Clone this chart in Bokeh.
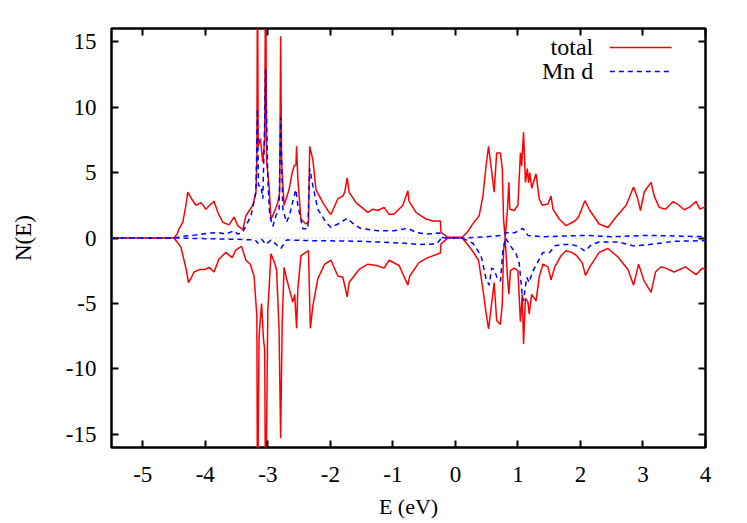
from bokeh.plotting import figure
from bokeh.models import LinearAxis, Range1d, FixedTicker, Span, Label, CustomJSTickFormatter
from bokeh.embed import file_html
from bokeh.resources import INLINE

# ---------------- data ----------------
e_tot_up = [-5.5, -4.5, -4.45, -4.42, -4.36, -4.31, -4.28, -4.22, -4.15, -4.07, -4.02, -3.99,
            -3.93, -3.86, -3.80, -3.72, -3.62, -3.54, -3.48, -3.40, -3.35, -3.24, -3.19,
            -3.175, -3.165, -3.155, -3.12, -3.08, -3.05, -3.035, -3.02, -2.98, -2.95, -2.92,
            -2.84, -2.81, -2.795, -2.78, -2.74, -2.66, -2.61, -2.58, -2.55, -2.54, -2.52,
            -2.47, -2.39, -2.35, -2.33, -2.28, -2.23, -2.12, -2.02, -1.99, -1.88, -1.80,
            -1.77, -1.73, -1.70, -1.59, -1.40, -1.32, -1.24, -1.14, -1.06, -0.98, -0.84,
            -0.76, -0.74, -0.63, -0.47, -0.36, -0.24, -0.23, -0.12, 0.11, 0.20, 0.28, 0.38,
            0.44, 0.49, 0.53, 0.57, 0.62, 0.66, 0.72, 0.75, 0.77, 0.795, 0.83, 0.855, 0.87,
            0.94, 1.00, 1.04, 1.06, 1.09, 1.12, 1.15, 1.17, 1.19, 1.22, 1.29, 1.34, 1.39,
            1.48, 1.53, 1.56, 1.66, 1.77, 1.91, 1.97, 2.01, 2.07, 2.15, 2.30, 2.44, 2.57,
            2.73, 2.85, 2.91, 2.96, 3.02, 3.06, 3.13, 3.18, 3.26, 3.36, 3.48, 3.55, 3.66,
            3.76, 3.85, 3.91, 4.00]
n_tot_up = [0, 0, 0.3, 0.69, 1.2, 2.5, 3.5, 3.0, 2.5, 2.7, 2.4, 2.2,
            2.5, 2.8, 1.96, 1.2, 1.0, 1.6, 0.94, 0.63, 1.7, 2.5, 3.5,
            6.0, 22, 7.0, 7.6, 5.8, 7.5, 22, 5.9, 4.0, 1.45, 1.7,
            2.7, 3.5, 15.4, 5.8, 2.5, 3.7, 5.0, 5.5, 5.6, 7.0, 4.5,
            1.45, 1.07, 1.2, 7.0, 6.0, 3.7, 2.7, 1.96, 1.8, 3.0, 3.2,
            3.5, 4.6, 3.5, 2.7, 1.96, 2.2, 2.1, 2.34, 1.8, 1.83, 2.5,
            3.6, 2.8, 1.96, 1.45, 1.3, 1.3, 0.43, 0.05, 0.05, 0.5, 1.1, 1.7,
            3.2, 5.5, 7.0, 5.5, 3.5, 6.5, 6.5, 5.3, 1.45, 0.0, 2.0, 4.25, 2.2,
            2.1, 2.5, 6.5, 5.5, 8.07, 4.25, 5.3, 4.2, 5.0, 3.8, 4.9, 3.0, 2.5,
            2.6, 3.2, 2.2, 1.45, 0.94, 1.3, 1.6, 2.1, 2.85, 2.1, 1.07, 0.8, 1.6,
            2.5, 3.9, 3.1, 2.1, 3.5, 3.8, 4.25, 3.2, 2.34, 2.2, 2.77, 2.6, 2.16,
            2.4, 2.8, 2.2, 2.4]

e_tot_dn = [-5.5, -4.5, -4.45, -4.39, -4.35, -4.30, -4.27, -4.22, -4.18, -4.08, -4.00, -3.94,
            -3.86, -3.78, -3.67, -3.57, -3.51, -3.42, -3.35, -3.28, -3.22, -3.175, -3.165,
            -3.14, -3.10, -3.07, -3.05, -3.035, -3.00, -2.98, -2.95, -2.90, -2.86, -2.82,
            -2.795, -2.77, -2.74, -2.70, -2.60, -2.57, -2.54, -2.52, -2.47, -2.35, -2.32,
            -2.28, -2.20, -2.09, -1.99, -1.88, -1.80, -1.73, -1.70, -1.54, -1.40, -1.26,
            -1.14, -1.06, -0.90, -0.76, -0.73, -0.58, -0.44, -0.24, -0.23, -0.12, 0.11,
            0.26, 0.37, 0.44, 0.49, 0.53, 0.57, 0.62, 0.66, 0.72, 0.75, 0.77, 0.795, 0.83,
            0.855, 0.88, 0.94, 1.00, 1.04, 1.07, 1.09, 1.12, 1.16, 1.18, 1.22, 1.29, 1.34,
            1.40, 1.48, 1.53, 1.59, 1.69, 1.77, 1.86, 1.94, 2.03, 2.08, 2.15, 2.30, 2.44,
            2.60, 2.76, 2.85, 2.93, 3.02, 3.13, 3.20, 3.29, 3.36, 3.50, 3.68, 3.76, 3.85,
            3.95, 4.00]
n_tot_dn = [0, 0, -0.3, -0.7, -1.5, -2.5, -3.4, -3.0, -2.6, -2.4, -2.4, -2.24,
            -2.6, -1.6, -1.1, -1.5, -0.9, -0.64, -1.7, -2.0, -2.9, -6.0, -22,
            -7.5, -5.0, -7.7, -8.5, -22, -5.5, -3.9, -1.2, -1.8, -2.4, -7.0,
            -15.3, -6.5, -2.24, -3.1, -4.9, -4.3, -6.9, -3.9, -1.35, -0.97, -6.9,
            -5.2, -3.1, -2.0, -1.7, -2.9, -3.0, -4.5, -3.4, -2.4, -2.0, -2.1,
            -2.3, -1.7, -2.1, -3.6, -2.9, -1.86, -1.5, -1.15, -0.45, 0, 0,
            -0.9, -1.7, -3.9, -5.7, -6.95, -5.4, -3.4, -6.3, -6.6, -5.0, -1.0, 0, -2.8,
            -4.3, -2.5, -2.3, -2.5, -6.4, -4.3, -8.1, -4.6, -4.9, -5.8, -4.3, -4.8, -3.0,
            -2.0, -2.2, -3.2, -2.2, -1.35, -0.97, -1.1, -1.35, -1.9, -2.85, -2.2, -1.1, -0.8,
            -1.45, -2.4, -3.6, -2.0, -3.3, -4.15, -2.6, -2.2, -2.3, -2.6, -2.2, -2.5, -2.8,
            -2.3, -2.4]

e_mn_up = [-5.5, -4.5, -4.4, -4.2, -3.94, -3.78, -3.67, -3.54, -3.48, -3.40, -3.35, -3.27,
           -3.19, -3.165, -3.15, -3.11, -3.08, -3.05, -3.035, -3.00, -2.97, -2.92, -2.87,
           -2.82, -2.795, -2.76, -2.70, -2.65, -2.59, -2.55, -2.52, -2.44, -2.36, -2.33,
           -2.28, -2.20, -2.07, -1.99, -1.88, -1.73, -1.66, -1.52, -1.24, -0.98, -0.76,
           -0.63, -0.47, -0.25, -0.23, -0.12, 0.11, 0.30, 0.50, 0.74, 0.80, 0.95, 1.08,
           1.16, 1.40, 2.08, 2.50, 3.10, 4.00]
n_mn_up = [0, 0, 0.1, 0.2, 0.38, 0.4, 0.3, 0.56, 0.3, 0.45, 0.94, 1.7,
           3.5, 9.85, 4.0, 4.0, 3.0, 8.9, 12.9, 4.5, 1.7, 0.9, 1.7,
           2.2, 9.2, 2.2, 1.2, 1.8, 3.0, 3.7, 2.5, 0.7, 0.7, 5.3,
           4.0, 2.2, 1.2, 0.8, 1.07, 1.5, 1.2, 0.74, 0.56, 0.56, 0.74,
           0.43, 0.3, 0.38, 0.05, 0, 0, 0.05, 0.1, 0.2, 0.4, 0.4, 0.74,
           0.2, 0.1, 0.2, 0.1, 0.2, 0.1]

e_mn_dn = [-5.5, -4.5, -4.0, -3.5, -3.2, -3.16, -3.10, -3.03, -2.95, -2.79, -2.70, -2.30,
           -1.50, -0.80, -0.60, -0.30, -0.23, -0.12, 0.11, 0.28, 0.41, 0.49, 0.54, 0.58,
           0.62, 0.67, 0.72, 0.76, 0.80, 0.88, 0.97, 1.02, 1.07, 1.09, 1.14, 1.18, 1.23,
           1.31, 1.40, 1.51, 1.59, 1.69, 1.86, 1.97, 2.07, 2.18, 2.30, 2.60, 2.85, 3.10,
           3.50, 4.00]
n_mn_dn = [0, 0, -0.05, -0.1, -0.15, -0.4, -0.1, -0.5, -0.15, -0.8, -0.15, -0.2,
           -0.25, -0.4, -0.5, -0.45, -0.05, 0, 0, -0.4, -1.35, -3.1, -3.6, -2.3,
           -2.4, -3.1, -3.3, -1.0, 0, -0.6, -1.2, -1.9, -4.4, -4.8, -3.0, -3.4, -2.6,
           -1.9, -1.1, -1.1, -0.6, -0.5, -0.5, -0.65, -1.0, -0.5, -0.3, -0.3, -0.6, -0.5,
           -0.25, -0.2]

x_ticks = [-5, -4, -3, -2, -1, 0, 1, 2, 3, 4]
y_ticks = [-15, -10, -5, 0, 5, 10, 15]
x_range = (-5.5, 4.0)
y_range = (-16.0, 16.0)
series_labels = ["total", "Mn d"]

# ---------------- styling ----------------
FONT = "Liberation Serif"
FS = "23px"
RED = "#ff0000"
BLUE = "#0000ff"

p = figure(width=738, height=522, output_backend="svg", toolbar_location=None,
           x_range=Range1d(*x_range), y_range=Range1d(*y_range),
           min_border_left=111, min_border_right=33, min_border_top=28, min_border_bottom=75)
p.background_fill_color = "white"
p.border_fill_color = "white"
p.outline_line_color = "black"
p.outline_line_width = 2.5
p.xgrid.visible = False
p.ygrid.visible = False

p.add_layout(Span(location=0, dimension="width", line_color="#a0a0a0",
                  line_dash="1 3", line_width=1.2))

p.line(e_tot_up, n_tot_up, line_color=RED, line_width=1.5)
p.line(e_tot_dn, n_tot_dn, line_color=RED, line_width=1.5)
p.line(e_mn_up, n_mn_up, line_color=BLUE, line_width=1.5, line_dash="5 4")
p.line(e_mn_dn, n_mn_dn, line_color=BLUE, line_width=1.5, line_dash="5 4")

empty_fmt = CustomJSTickFormatter(code="return ''")

def style_axis(ax, ticks, show_labels=True):
    ax.ticker = FixedTicker(ticks=ticks)
    ax.axis_line_color = None
    ax.major_tick_in = 7
    ax.major_tick_out = 0
    ax.major_tick_line_width = 2
    ax.major_tick_line_color = "black"
    ax.minor_tick_line_color = None
    ax.major_label_text_font = FONT
    ax.major_label_text_font_size = FS
    ax.major_label_text_color = "black"
    ax.axis_label_text_font = FONT
    ax.axis_label_text_font_size = FS
    ax.axis_label_text_font_style = "normal"
    ax.axis_label_text_color = "black"
    if show_labels:
        ax.major_label_overrides = {t: str(t) for t in ticks}
    else:
        ax.formatter = empty_fmt
        ax.major_label_standoff = 0

xa = p.xaxis[0]
ya = p.yaxis[0]
top = LinearAxis()
right = LinearAxis()
p.add_layout(top, "above")
p.add_layout(right, "right")
style_axis(xa, x_ticks)
style_axis(ya, y_ticks)
style_axis(top, x_ticks, False)
style_axis(right, y_ticks, False)
xa.axis_label = "E (eV)"
ya.axis_label = "N(E)"
xa.axis_label_text_font_size = "22px"
xa.major_label_standoff = 19
ya.major_label_standoff = 15
xa.axis_label_standoff = 9
ya.axis_label_standoff = 27

xs, xe = x_range
ys, ye = y_range
lx1 = xe - 0.057 * (xe - xs)
lx0 = lx1 - 0.104 * (xe - xs)
ly = [ye - 0.0453 * (ye - ys), ye - 0.1025 * (ye - ys)]
p.segment(x0=[lx0], y0=[ly[0]], x1=[lx1], y1=[ly[0]], line_color=RED, line_width=1.5)
p.segment(x0=[lx0], y0=[ly[1]], x1=[lx1], y1=[ly[1]], line_color=BLUE, line_width=1.5,
          line_dash="5 4")
for lab, yy in zip(series_labels, ly):
    p.add_layout(Label(x=lx0 - 0.028 * (xe - xs), y=yy, text=lab, text_align="right",
                       text_baseline="middle", text_font=FONT, text_font_size="24px",
                       text_color="black"))

open("out.html", "w").write(file_html(p, INLINE))
